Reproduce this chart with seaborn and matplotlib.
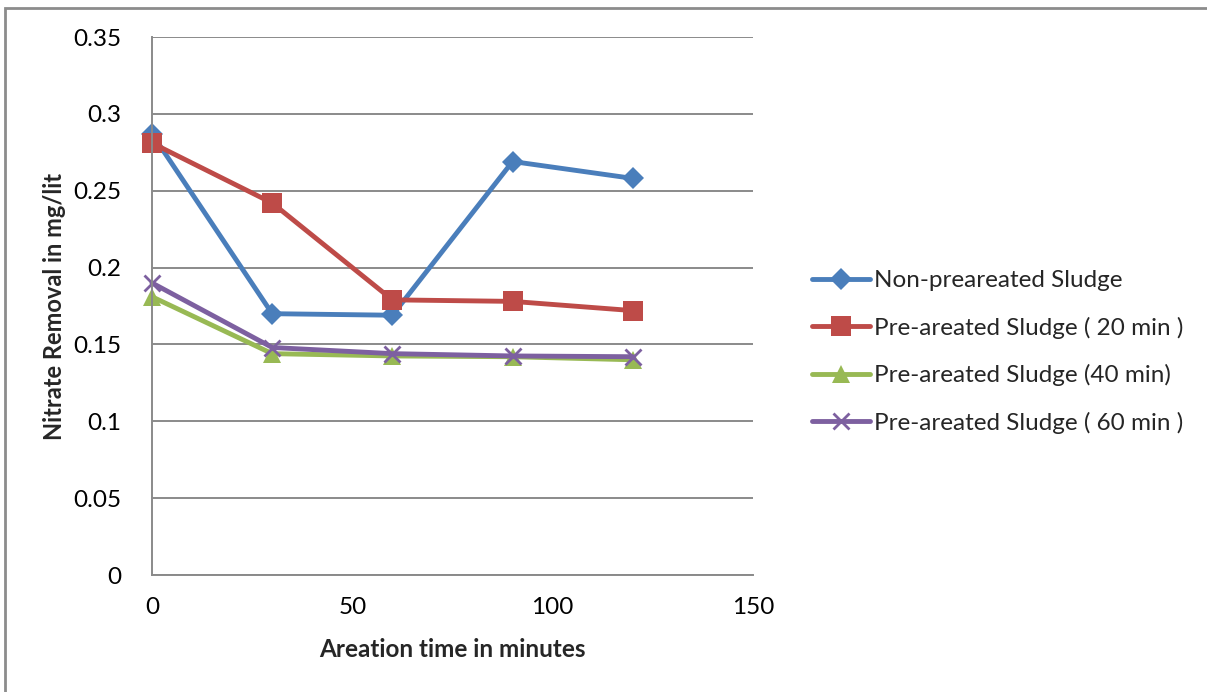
import matplotlib
matplotlib.use("Agg")
import matplotlib.pyplot as plt
from matplotlib.patches import Rectangle
import seaborn as sns

# Aeration time (min) and nitrate removal (mg/lit) for each sludge type
times = [0, 30, 60, 90, 120]
non_preaerated = [0.287, 0.170, 0.169, 0.269, 0.258]
pre_20 = [0.281, 0.242, 0.179, 0.178, 0.172]
pre_40 = [0.181, 0.144, 0.1425, 0.142, 0.140]
pre_60 = [0.190, 0.148, 0.144, 0.1425, 0.142]

labels = [
    "Non-preareated Sludge",
    "Pre-areated Sludge ( 20 min )",
    "Pre-areated Sludge (40 min)",
    "Pre-areated Sludge ( 60 min )",
]
y_ticks = [0, 0.05, 0.1, 0.15, 0.2, 0.25, 0.3, 0.35]
y_tick_labels = ["0", "0.05", "0.1", "0.15", "0.2", "0.25", "0.3", "0.35"]
x_ticks = [0, 50, 100, 150]

sns.set_theme(style="white")
plt.rcParams["font.family"] = ["Lato", "DejaVu Sans"]

fig = plt.figure(figsize=(12.07, 6.92), dpi=100)
W, H = 1207, 692
ax = fig.add_axes([152 / W, 1 - 575 / H, (753 - 152) / W, (575 - 37) / H])

# outer chart border
fig.add_artist(Rectangle((5 / W, -0.1), 1.2, 1 - 8 / H + 0.1, transform=fig.transFigure,
                         fill=False, edgecolor="#8c8c8c", linewidth=2, zorder=0))

styles = [
    (non_preaerated, "#4A7EBB", "D", 11, 0),
    (pre_20, "#BE4B48", "s", 14, 0),
    (pre_40, "#98B954", "^", 13, 0),
    (pre_60, "#7D60A0", "x", 12, 2),
]
for (vals, color, marker, ms, mew), lab in zip(styles, labels):
    kw = dict(markeredgewidth=mew, markeredgecolor=color) if marker == "x" else dict(markeredgewidth=0)
    sns.lineplot(x=times, y=vals, ax=ax, color=color, marker=marker, markersize=ms,
                 linewidth=3.5, label=lab, clip_on=False, **kw)

ax.set_xlim(0, 150)
ax.set_ylim(0, 0.35)
ax.set_xticks(x_ticks)
ax.set_xticklabels([str(t) for t in x_ticks])
ax.set_yticks(y_ticks)
ax.set_yticklabels(y_tick_labels)
ax.tick_params(axis="both", labelsize=17.5, length=0, colors="black")
ax.tick_params(axis="x", pad=16)
ax.tick_params(axis="y", pad=22)
ax.yaxis.grid(True, color="#8a8a8a", linewidth=1.4)
ax.xaxis.grid(False)
for side in ["top", "right"]:
    ax.spines[side].set_visible(False)
for side in ["left", "bottom"]:
    ax.spines[side].set_color("#8a8a8a")
    ax.spines[side].set_linewidth(1.4)

ax.set_xlabel("Areation time in minutes", fontsize=17.5, fontweight="bold", labelpad=14)
ax.set_ylabel("Nitrate Removal in mg/lit", fontsize=17, fontweight="bold", labelpad=5)

ax.legend(loc="center left", bbox_to_anchor=(812 / W, 1 - 352 / H), bbox_transform=fig.transFigure,
          frameon=False, fontsize=17.5, handlelength=2.4, handletextpad=0.15, labelspacing=1.05,
          borderaxespad=0, borderpad=0)

fig.savefig("out.png", dpi=100)
